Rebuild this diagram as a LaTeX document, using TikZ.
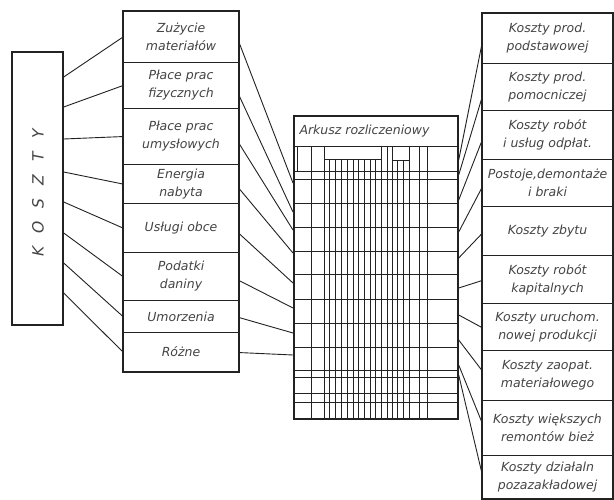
\documentclass[tikz,border=0pt]{standalone}
\usepackage{fontspec}
\setmainfont{DejaVu Sans}
\usetikzlibrary{calc}
\definecolor{ink}{HTML}{222222}
\definecolor{txt}{HTML}{444444}
\tikzset{
  lbl/.style={font=\itshape\fontsize{12.5}{18}\selectfont, text=txt, align=center},
  cell/.style={draw=ink, line width=1.1pt, anchor=north west, inner sep=0pt, lbl},
  frame/.style={draw=ink, line width=1.7pt},
  conn/.style={draw=ink, line width=0.9pt},
  gh/.style={draw=ink, line width=1pt},
  gv/.style={draw=ink, line width=0.8pt},
}
\begin{document}
\begin{tikzpicture}[x=1pt,y=-1pt]
\useasboundingbox (0,0) rectangle (614,500);
\fill[white] (0,0) rectangle (614,500);

% KOSZTY box
\node[frame, anchor=north west, minimum width=51pt, minimum height=273pt, inner sep=0pt] (koszty) at (11,51) {};
\node[font=\itshape\fontsize{15.5}{17}\selectfont, text=txt, rotate=90] (kosztylbl) at (38,193)
  {K\kern0.85em O\kern0.85em S\kern0.85em Z\kern0.85em T\kern0.85em Y};

% middle-left column
\foreach \n/\t/\b/\s in {
  m1/11/62/{Zużycie\\materiałów},
  m2/62/108/{Płace prac\\fizycznych},
  m3/108/164/{Płace prac\\umysłowych},
  m4/164/203/{Energia\\nabyta},
  m5/203/252/{Usługi obce},
  m6/252/300/{Podatki\\daniny},
  m7/300/332/{Umorzenia},
  m8/332/371/{Różne}}
  \node[cell, minimum width=115pt, minimum height={(\b-\t)*1pt}] (\n) at (123,\t) {\s};
\draw[frame] (m1.north west) rectangle (m8.south east);

% right column
\foreach \n/\t/\b/\s in {
  r1/13/63/{Koszty prod.\\podstawowej},
  r2/63/110/{Koszty prod.\\pomocniczej},
  r3/110/159/{Koszty robót\\i usług odpłat.},
  r4/159/206/{Postoje,demontaże\\i braki},
  r5/206/255/{Koszty zbytu},
  r6/255/303/{Koszty robót\\kapitalnych},
  r7/303/350/{Koszty uruchom.\\nowej produkcji},
  r8/350/400/{Koszty zaopat.\\materiałowego},
  r9/400/455/{Koszty większych\\remontów bież},
  r10/455/498/{Koszty działaln\\pozazakładowej}}
  \node[cell, minimum width=130pt, minimum height={(\b-\t)*1pt}] (\n) at (482,\t) {\s};
\draw[frame] (r1.north west) rectangle (r10.south east);

% central sheet
\node[frame, anchor=north west, minimum width=164pt, minimum height=303pt, inner sep=0pt] (grid) at (293,115) {};
\node[lbl, anchor=west] (title) at (296,131) {Arkusz rozliczeniowy};
\draw[gh] (293,147) -- (457,147);
\foreach \y in {172,180,204,228,252,275,300,323,347,370,377,393,402}
  \draw[gh] (293,\y) -- (457,\y);
\foreach \x in {311,324,381,387,392,409,419,427}
  \draw[gv] (\x,147) -- (\x,418);
\draw[gv] (297,147) -- (297,172);
\draw[gh] (324,160) -- (381,160);
\foreach \x in {329.5,335,341,347,353,358.5,364,370,375.5}
  \draw[gv] (\x,160) -- (\x,418);
\draw[gh] (392,161) -- (409,161);
\foreach \x in {397,403}
  \draw[gv] (\x,161) -- (\x,418);

% connectors KOSZTY -> cost types
\foreach \i/\y in {1/77,2/107,3/139,4/172,5/202,6/233,7/263,8/293}
  \draw[conn] ($(koszty.north east)+(0,\y-51)$) -- (m\i.west);

% cost types -> sheet
\foreach \i/\s/\g in {1/5.5/183,2/10/212,3/7/230,4/4.5/253,5/5.5/283,6/4/308,7/1/333,8/0.5/355}
  \draw[conn] ($(m\i.east)+(0,\s)$) -- ($(grid.north west)+(0,\g-115)$);

% sheet -> cost centres
\foreach \i/\g/\s in {1/160/5,2/175/10.5,3/200/5.5,4/232/4.5,5/258/2.5,6/288/1,7/315/0.5,8/340/-5,9/365/-5.5,10/375/-3.5}
  \draw[conn] ($(grid.north east)+(0,\g-115)$) -- ($(r\i.west)+(0,\s)$);
\end{tikzpicture}
\end{document}
